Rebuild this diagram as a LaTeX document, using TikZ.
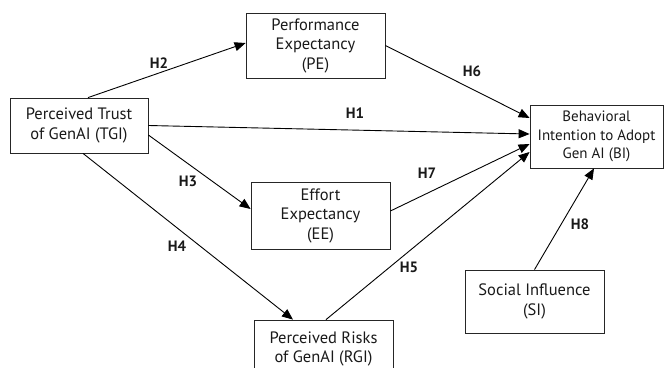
\documentclass[tikz,border=0pt]{standalone}
\usepackage{fontspec}
\setmainfont{PT Sans}
\usetikzlibrary{arrows.meta}
\begin{document}
\begin{tikzpicture}[x=1pt,y=-1pt,
  box/.style={draw=black!85,line width=0.8pt,inner sep=0pt,align=center,
    font=\fontsize{16.5}{19.5}\selectfont,text=black!90},
  conn/.style={line width=0.9pt,-{Triangle[length=11pt,width=9pt]}},
  hyp/.style={font=\fontsize{15}{17}\selectfont\bfseries,text=black!90}]
\useasboundingbox (0,0) rectangle (664,367);
\clip (0,0) rectangle (664,367);
\node[box,minimum width=138pt,minimum height=55pt] (tgi) at (79,125.5) {Perceived Trust\\of GenAI (TGI)};
\node[box,minimum width=139pt,minimum height=65pt] (pe) at (315.5,45.5) {Performance\\Expectancy\\(PE)};
\node[box,minimum width=133pt,minimum height=63pt,font=\fontsize{15}{18.5}\selectfont] (bi) at (596.5,136.5) {Behavioral\\Intention to Adopt\\Gen AI (BI)};
\node[box,minimum width=139pt,minimum height=67pt] (ee) at (320.5,215.5) {Effort\\Expectancy\\(EE)};
\node[box,minimum width=139pt,minimum height=58pt] (rgi) at (323.5,349) {Perceived Risks\\of GenAI (RGI)};
\node[box,minimum width=139pt,minimum height=63pt] (si) at (534.5,301.5) {Social Influence\\(SI)};
% connectors
\draw[conn] ([xshift=9pt]tgi.north) -- ([yshift=2.5pt]pe.west);
\draw[conn] (pe.east) -- ([yshift=18.5pt]bi.west);
\draw[conn] (tgi.east) -- ([yshift=2.5pt]bi.west);
\draw[conn] ([yshift=4.5pt]ee.east) -- ([yshift=-7.5pt]bi.west);
\draw[conn] ([xshift=2.5pt]rgi.north) -- ([yshift=-15.5pt]bi.west);
\draw[conn] (si.north) -- ([xshift=-2.5pt]bi.south);
\draw[conn] ([yshift=-9.5pt]tgi.east) -- ([yshift=6.5pt]ee.west);
\draw[conn] ([xshift=4pt]tgi.south) -- ([xshift=-30.5pt]rgi.north);
% labels
\node[hyp] (h2) at (159,63) {H2};
\node[hyp] (h6) at (472,71) {H6};
\node[hyp] (h1) at (355,113) {H1};
\node[hyp] (h3) at (188,181) {H3};
\node[hyp] (h4) at (177,246) {H4};
\node[hyp] (h7) at (427,173) {H7};
\node[hyp] (h5) at (409,267) {H5};
\node[hyp] (h8) at (580,224) {H8};
\end{tikzpicture}
\end{document}
